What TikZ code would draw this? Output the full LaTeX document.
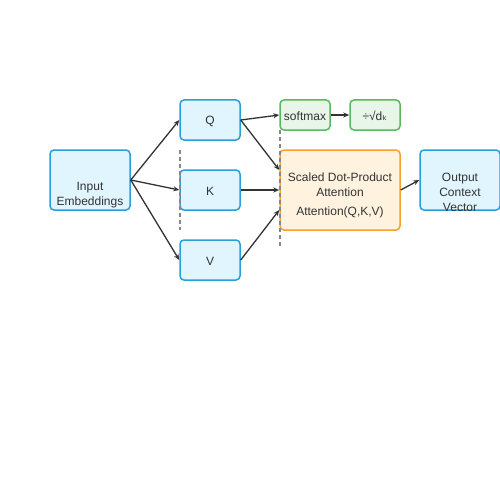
\documentclass[tikz,border=0pt]{standalone}
\usepackage{fontspec}
\setmainfont{Liberation Sans}
\newfontfamily\symfont{DejaVu Sans}
\usetikzlibrary{arrows.meta}
\definecolor{txtc}{HTML}{333333}
\definecolor{bluefill}{HTML}{E1F5FE}
\definecolor{blueline}{HTML}{2A9FD8}
\definecolor{greenfill}{HTML}{E8F5E9}
\definecolor{greenline}{HTML}{5CB860}
\definecolor{orangefill}{HTML}{FFF3E0}
\definecolor{orangeline}{HTML}{F5A030}
\definecolor{dashc}{HTML}{888888}
\tikzset{
  boxbase/.style={rectangle, rounded corners=4pt, line width=1.5pt, inner sep=0pt, text=txtc, font=\fontsize{12}{15}\selectfont, align=center},
  bluebox/.style={boxbase, draw=blueline, fill=bluefill},
  greenbox/.style={boxbase, draw=greenline, fill=greenfill},
  orangebox/.style={boxbase, draw=orangeline, fill=orangefill},
  txt/.style={text=txtc, font=\fontsize{12}{15}\selectfont, align=center, inner sep=0pt},
  arr/.style={draw=txtc, line width=1.3pt, -{Stealth[length=6pt,width=5pt]}},
  sep/.style={draw=dashc, line width=1.5pt, dash pattern=on 4pt off 3pt}
}
\begin{document}
\begin{tikzpicture}[x=1pt,y=-1pt]
\useasboundingbox (0,0) rectangle (500,500);
\fill[white] (0,0) rectangle (500,500);
\node[bluebox, minimum width=80pt, minimum height=60pt] (inp) at (90,180) {};
\node[txt] (inpt) at (90,195) {Input\\Embeddings};
\node[bluebox, minimum width=60pt, minimum height=40pt] (q) at (210,120) {};
\node[txt] (qt) at (210,121.5) {Q};
\node[bluebox, minimum width=60pt, minimum height=40pt] (k) at (210,190) {};
\node[txt] (kt) at (210,191.5) {K};
\node[bluebox, minimum width=60pt, minimum height=40pt] (v) at (210,260) {};
\node[txt] (vt) at (210,261.5) {V};
\node[greenbox, minimum width=50pt, minimum height=30pt] (soft) at (305,115) {};
\node[txt] (softt) at (305,116) {softmax};
\node[greenbox, minimum width=50pt, minimum height=30pt] (scale) at (375,115) {};
\node[txt] (scalet) at (375,116) {÷√d{\symfont ₖ}};
\node[orangebox, minimum width=120pt, minimum height=80pt] (att) at (340,190) {};
\node[txt] (attt) at (340,185) {Scaled Dot-Product\\Attention};
\node[txt] (atteq) at (340,212) {Attention(Q,K,V)};
\node[bluebox, minimum width=80pt, minimum height=60pt] (out) at (460,180) {};
\node[txt] (outt) at (460,192.5) {Output\\Context\\Vector};
\draw[arr] (inp.east) -- (q.west);
\draw[arr] (inp.east) -- (k.west);
\draw[arr] (inp.east) -- (v.west);
\draw[arr] (q.east) -- (soft.west);
\draw[arr] (q.east) -- ([yshift=20pt]att.west);
\draw[arr] (k.east) -- (att.west);
\draw[arr] (v.east) -- ([yshift=-20pt]att.west);
\draw[arr] (soft.east) -- (scale.west);
\draw[arr] (att.east) -- (out.west);
\draw[sep] (180,150) -- (180,230);
\draw[sep] (280,130) -- (280,248);
\end{tikzpicture}
\end{document}
